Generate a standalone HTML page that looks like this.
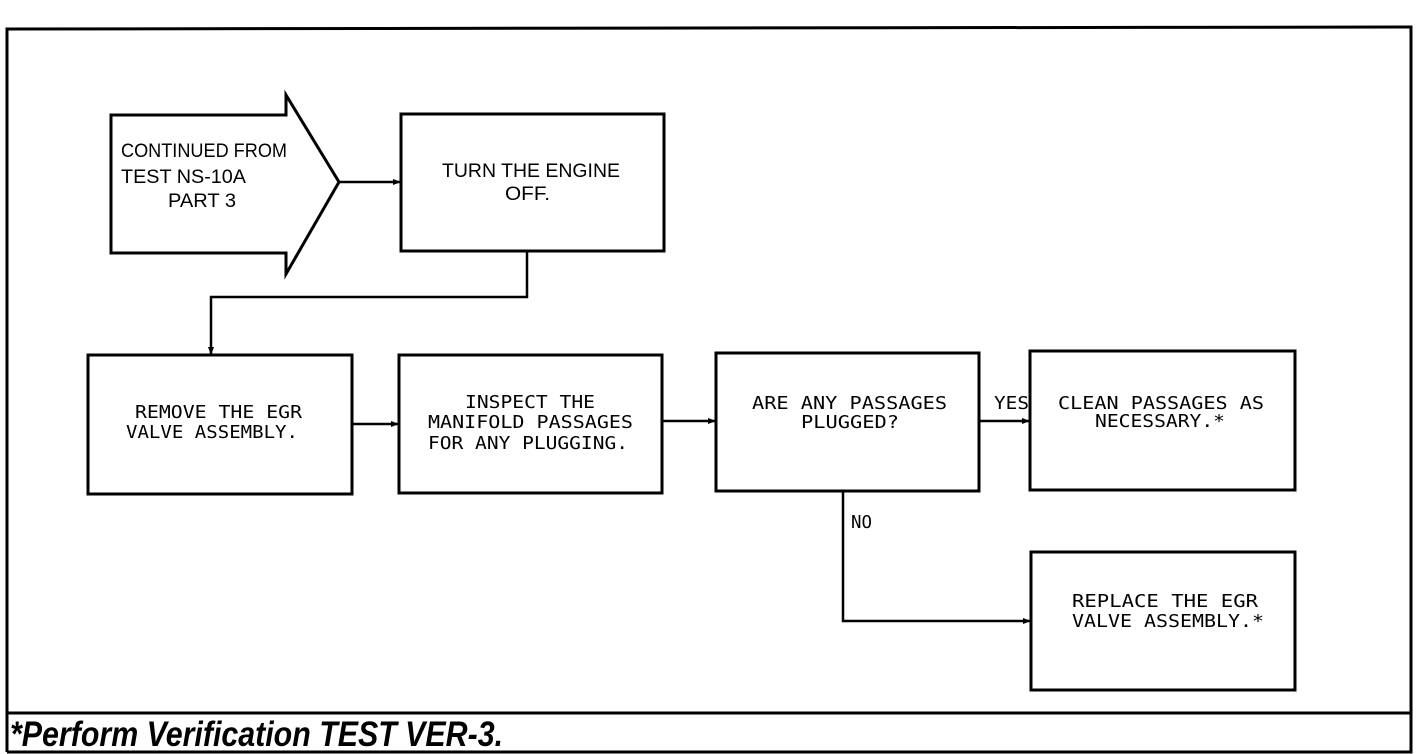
<!DOCTYPE html>
<html><head><meta charset="utf-8"><style>
html,body{margin:0;padding:0;background:#fff;}
svg{display:block}
text{font-family:"Liberation Sans",sans-serif;fill:#000}
.b{font-size:19px}
.c{font-family:"DejaVu Sans Mono","Liberation Mono",monospace;font-size:18px}
</style></head><body>
<svg width="1424" height="754" viewBox="0 0 1424 754" xmlns="http://www.w3.org/2000/svg">
<defs><marker id="a" markerWidth="8" markerHeight="8" refX="7" refY="4" orient="auto" markerUnits="userSpaceOnUse"><path d="M0,1 L8,4 L0,7 Z" fill="#000"/></marker></defs>
<g fill="none" stroke="#000" stroke-width="3">
<polyline points="7,752 7,29 1411,27 1411,752 7,752"/>
<line x1="7" y1="713" x2="1411" y2="713"/>
<polygon points="111,115 286,115 286,95 339,182 286,274 286,253 111,253"/>
<rect x="401" y="114" width="263" height="137"/>
<rect x="88" y="355" width="264" height="139"/>
<rect x="399" y="355" width="263" height="138"/>
<rect x="716" y="353" width="263" height="138"/>
<rect x="1030" y="351" width="265" height="139"/>
<rect x="1031" y="552" width="264" height="138"/>
</g>
<g fill="none" stroke="#000" stroke-width="2.5">
<line x1="339" y1="182" x2="400" y2="182" marker-end="url(#a)"/>
<polyline points="527,251 527,297 211,297 211,354" marker-end="url(#a)"/>
<line x1="352" y1="424" x2="398" y2="424" marker-end="url(#a)"/>
<line x1="662" y1="421" x2="715" y2="421" marker-end="url(#a)"/>
<line x1="979" y1="421" x2="1029" y2="421" marker-end="url(#a)"/>
<polyline points="843,491 843,621 1030,621" marker-end="url(#a)"/>
</g>
<text class="b" x="121" y="157" textLength="166" lengthAdjust="spacingAndGlyphs">CONTINUED FROM</text>
<text class="b" x="121" y="183" textLength="125" lengthAdjust="spacingAndGlyphs">TEST  NS-10A</text>
<text class="b" x="168" y="207" textLength="68" lengthAdjust="spacingAndGlyphs">PART 3</text>
<text class="b" x="442" y="177" textLength="178" lengthAdjust="spacingAndGlyphs">TURN THE ENGINE</text>
<text class="b" x="505" y="200" textLength="45" lengthAdjust="spacingAndGlyphs">OFF.</text>
<text class="c" x="135" y="418" textLength="167" lengthAdjust="spacingAndGlyphs">REMOVE THE EGR</text>
<text class="c" x="126" y="438" textLength="172" lengthAdjust="spacingAndGlyphs">VALVE ASSEMBLY.</text>
<text class="c" x="465" y="408" textLength="130" lengthAdjust="spacingAndGlyphs">INSPECT THE</text>
<text class="c" x="428" y="428" textLength="205" lengthAdjust="spacingAndGlyphs">MANIFOLD PASSAGES</text>
<text class="c" x="428" y="449" textLength="200" lengthAdjust="spacingAndGlyphs">FOR ANY PLUGGING.</text>
<text class="c" x="752" y="409" textLength="195" lengthAdjust="spacingAndGlyphs">ARE ANY PASSAGES</text>
<text class="c" x="801" y="428" textLength="98" lengthAdjust="spacingAndGlyphs">PLUGGED?</text>
<text class="c" x="994" y="409" textLength="35" lengthAdjust="spacingAndGlyphs">YES</text>
<text class="c" x="1058" y="409" textLength="206" lengthAdjust="spacingAndGlyphs">CLEAN PASSAGES AS</text>
<text class="c" x="1095" y="427" textLength="130" lengthAdjust="spacingAndGlyphs">NECESSARY.*</text>
<text class="c" x="851" y="528" textLength="21" lengthAdjust="spacingAndGlyphs">NO</text>
<text class="c" x="1072" y="607" textLength="186" lengthAdjust="spacingAndGlyphs">REPLACE THE EGR</text>
<text class="c" x="1072" y="627" textLength="192" lengthAdjust="spacingAndGlyphs">VALVE ASSEMBLY.*</text>
<text x="10" y="746" style="font-size:35px;font-weight:bold;font-style:italic" textLength="493" lengthAdjust="spacingAndGlyphs">*Perform Verification TEST VER-3.</text>
</svg>
</body></html>
